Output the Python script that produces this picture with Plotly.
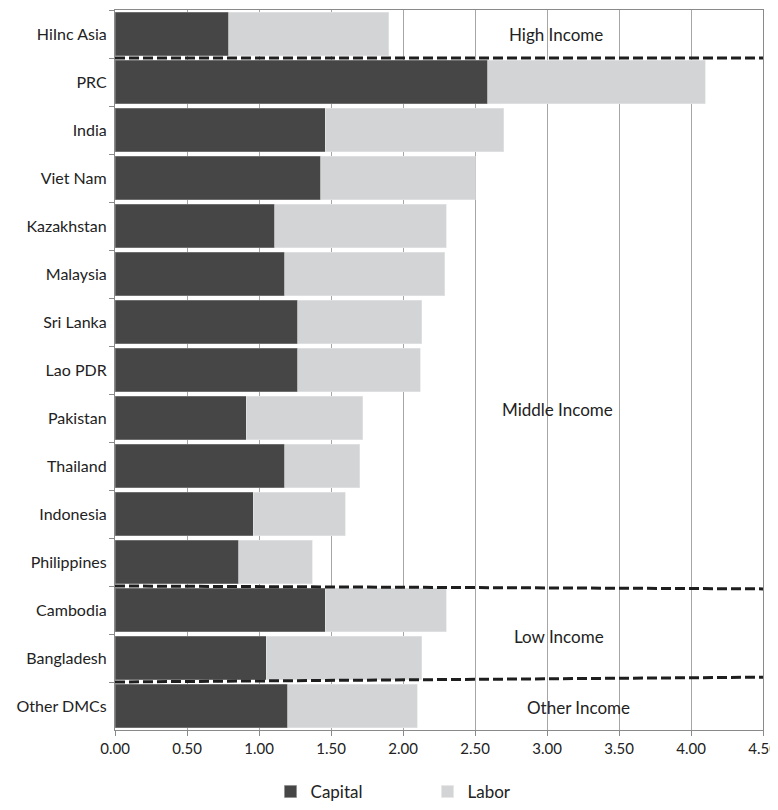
import plotly.graph_objects as go

categories = ["HiInc Asia", "PRC", "India", "Viet Nam", "Kazakhstan", "Malaysia",
              "Sri Lanka", "Lao PDR", "Pakistan", "Thailand", "Indonesia",
              "Philippines", "Cambodia", "Bangladesh", "Other DMCs"]
capital = [0.79, 2.59, 1.46, 1.43, 1.11, 1.18, 1.27, 1.27, 0.91, 1.18, 0.96, 0.86, 1.46, 1.05, 1.20]
labor = [1.11, 1.51, 1.24, 1.07, 1.19, 1.11, 0.86, 0.85, 0.81, 0.52, 0.64, 0.51, 0.84, 1.08, 0.90]
x_ticks = [0, 0.5, 1.0, 1.5, 2.0, 2.5, 3.0, 3.5, 4.0, 4.5]

group_labels = ["High Income", "Middle Income", "Low Income", "Other Income"]
group_label_x = [3.06, 3.07, 3.08, 3.22]
group_label_y = [0.0, 7.83, 12.56, 14.04]
# separators: (y at left, y at right) in category index units
sep_left = [0.5, 11.5, 13.5]
sep_right = [0.5, 11.56, 13.4]

FONT = "Lato, 'Open Sans', sans-serif"

fig = go.Figure()
fig.add_trace(go.Bar(y=categories, x=capital, name="Capital", orientation="h",
                     marker=dict(color="#464646", line=dict(color="#8a8a8a", width=0.6))))
fig.add_trace(go.Bar(y=categories, x=labor, name="Labor", orientation="h",
                     marker=dict(color="#d3d4d6", line=dict(color="#e6e6e6", width=0.6))))

for yl, yr in zip(sep_left, sep_right):
    fig.add_shape(type="line", xref="x", yref="y", x0=0, x1=4.5, y0=yl, y1=yr,
                  line=dict(color="#1e1e1e", width=3, dash="10px,4px"), layer="above")

for t, xv, yv in zip(group_labels, group_label_x, group_label_y):
    fig.add_annotation(x=xv, y=yv, xref="x", yref="y", text=t, showarrow=False,
                       font=dict(size=17, color="#222", family=FONT))

fig.update_layout(
    barmode="stack",
    bargap=0.09,
    width=770, height=802,
    margin=dict(l=107, r=15, t=2, b=80, autoexpand=False),
    plot_bgcolor="white", paper_bgcolor="white",
    font=dict(family=FONT, size=16, color="#222"),
    legend=dict(orientation="h", x=0.24, xanchor="left", y=-0.111, yanchor="bottom",
                font=dict(size=17, color="#222"), entrywidth=112, itemwidth=30,
                traceorder="normal"),
    xaxis=dict(range=[0, 4.5], tickvals=x_ticks, tickformat=".2f", automargin=False,
               showgrid=True, gridcolor="#a6a6a6", gridwidth=1,
               showline=True, linecolor="#8a8a8a", linewidth=1, mirror=True,
               ticks="outside", ticklen=5, tickcolor="#8a8a8a",
               ticklabeloverflow="allow",
               tickfont=dict(size=15), zeroline=False),
    yaxis=dict(categoryorder="array", categoryarray=categories, autorange="reversed",
               automargin=False,
               showline=True, linecolor="#8a8a8a", linewidth=1, mirror=True,
               ticks="outside", ticklen=5, tickcolor="#8a8a8a", tickson="boundaries",
               showgrid=False, tickfont=dict(size=16), ticksuffix=" "),
)

fig.write_html("out.html")
